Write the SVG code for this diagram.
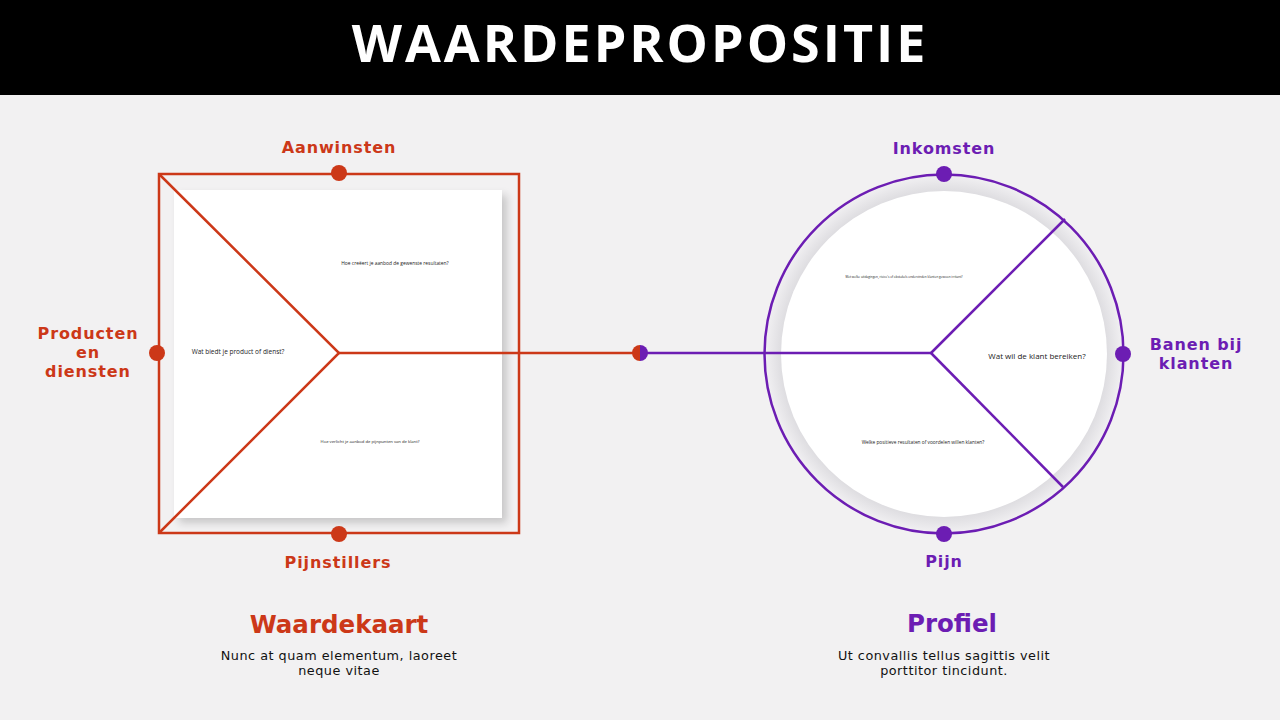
<svg xmlns="http://www.w3.org/2000/svg" width="1280" height="720" viewBox="0 0 1280 720">
<defs>
<style>
.red{fill:#cc3818}
.pur{fill:#6c1db3}
.lbl{font-family:"DejaVu Sans","Liberation Sans",sans-serif;font-weight:700;font-size:16px;letter-spacing:0.9px;text-anchor:middle}
.ttl{font-family:"DejaVu Sans","Liberation Sans",sans-serif;font-weight:700;font-size:24.5px;text-anchor:middle}
.desc{font-family:"DejaVu Sans","Liberation Sans",sans-serif;font-size:12.8px;letter-spacing:0.5px;fill:#111;text-anchor:middle}
.q{font-family:"Open Sans","Liberation Sans",sans-serif;fill:#222;text-anchor:middle}
.rl{stroke:#cc3818;stroke-width:2.5;fill:none}
.pl{stroke:#6c1db3;stroke-width:2.5;fill:none}
</style>
<filter id="sh" x="-10%" y="-10%" width="130%" height="130%">
<feGaussianBlur in="SourceAlpha" stdDeviation="4"/>
<feOffset dx="5" dy="5"/>
<feComponentTransfer><feFuncA type="linear" slope="0.18"/></feComponentTransfer>
<feMerge><feMergeNode/><feMergeNode in="SourceGraphic"/></feMerge>
</filter>
<radialGradient id="ring" cx="944" cy="354" r="180" gradientUnits="userSpaceOnUse">
<stop offset="0.88" stop-color="#d9d8dc"/>
<stop offset="1" stop-color="#f2f1f3"/>
</radialGradient>
</defs>
<rect width="1280" height="720" fill="#f2f1f2"/>
<g id="header">
<rect width="1280" height="95" fill="#000"/>
<text x="640" y="62" font-family="Open Sans, Liberation Sans, sans-serif" font-weight="700" font-size="52" fill="#fff" text-anchor="middle" letter-spacing="3">WAARDEPROPOSITIE</text>
</g>
<g id="waardekaart">
<rect x="174" y="190" width="328" height="328" fill="#fff" filter="url(#sh)"/>
<rect x="159" y="174" width="360" height="359" class="rl"/>
<text class="q" x="238" y="353.5" font-size="6.5">Wat biedt je product of dienst?</text>
<text class="q" x="395" y="265" font-size="4.9">Hoe creëert je aanbod de gewenste resultaten?</text>
<text class="q" x="370" y="443" font-size="4.2">Hoe verlicht je aanbod de pijnpunten van de klant?</text>
</g>
<g id="profiel">
<circle cx="944" cy="354" r="178" fill="url(#ring)"/>
<circle cx="944" cy="354" r="163" fill="#fff"/>
<circle cx="944" cy="354" r="179.5" class="pl"/>
<text class="q" x="904" y="278" font-size="3.1">Met welke uitdagingen, risico's of obstakels ondervinden klanten gewoon irritant?</text>
<text class="q" x="1037" y="359" font-size="8">Wat wil de klant bereiken?</text>
<text class="q" x="923" y="444" font-size="4.8">Welke positieve resultaten of voordelen willen klanten?</text>
</g>
<g id="connectors">
<polyline points="159,174 339,353 159,533" class="rl"/>
<line x1="339" y1="353" x2="640" y2="353" class="rl"/>
<line x1="640" y1="353" x2="931" y2="353" class="pl"/>
<line x1="931" y1="353" x2="1065" y2="219" class="pl"/>
<line x1="931" y1="353" x2="1063" y2="487" class="pl"/>
</g>
<g id="dots">
<circle cx="339" cy="173" r="8" class="red"/>
<circle cx="157" cy="353" r="8" class="red"/>
<circle cx="339" cy="534" r="8" class="red"/>
<path d="M640,345 A8,8 0 0 0 640,361 Z" class="red"/>
<path d="M640,345 A8,8 0 0 1 640,361 Z" class="pur"/>
<circle cx="944" cy="174" r="8" class="pur"/>
<circle cx="1123" cy="354" r="8" class="pur"/>
<circle cx="944" cy="534" r="8" class="pur"/>
</g>
<g id="labels">
<text class="lbl red" x="339" y="153">Aanwinsten</text>
<text class="lbl red" x="88" y="339">Producten</text>
<text class="lbl red" x="88" y="358">en</text>
<text class="lbl red" x="88" y="377">diensten</text>
<text class="lbl red" x="338" y="568">Pijnstillers</text>
<text class="lbl pur" x="944" y="154">Inkomsten</text>
<text class="lbl pur" x="1196" y="350">Banen bij</text>
<text class="lbl pur" x="1196" y="369">klanten</text>
<text class="lbl pur" x="944" y="567">Pijn</text>
</g>
<g id="captions">
<text class="ttl red" x="339" y="633">Waardekaart</text>
<text class="desc" x="339" y="660">Nunc at quam elementum, laoreet</text>
<text class="desc" x="339" y="675">neque vitae</text>
<text class="ttl pur" x="952" y="632">Profiel</text>
<text class="desc" x="944" y="660">Ut convallis tellus sagittis velit</text>
<text class="desc" x="944" y="675">porttitor tincidunt.</text>
</g>
</svg>
